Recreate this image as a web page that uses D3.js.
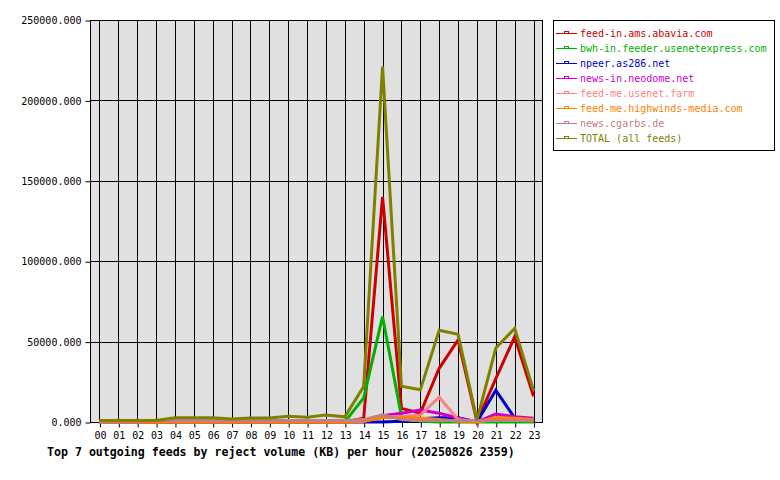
<!DOCTYPE html>
<html>
<head>
<meta charset="utf-8">
<script src="https://cdn.jsdelivr.net/npm/d3@7"></script>
<style>
  body { margin: 0; background: #ffffff; }
  svg { display: block; }
  text { font-family: "DejaVu Sans Mono", monospace; }
</style>
</head>
<body>
<svg id="chart" width="780" height="480"></svg>
<script>
const hours = ["00","01","02","03","04","05","06","07","08","09","10","11","12","13","14","15","16","17","18","19","20","21","22","23"];
const yTicks = [0, 50000, 100000, 150000, 200000, 250000];
const titleText = "Top 7 outgoing feeds by reject volume (KB) per hour (20250826 2359)";

const seriesNames = [
  "feed-in.ams.abavia.com",
  "bwh-in.feeder.usenetexpress.com",
  "npeer.as286.net",
  "news-in.neodome.net",
  "feed-me.usenet.farm",
  "feed-me.highwinds-media.com",
  "news.cgarbs.de",
  "TOTAL (all feeds)"
];
const seriesColors = ["#cc0000", "#00b000", "#0000cc", "#cc00cc", "#ff8080", "#ff8000", "#c08080", "#808000"];

const abavia    = [0,0,0,0,0,0,0,0,0,0,0,0,0,0,2300,140000,8500,5500,33400,51000,300,27000,53000,16000];
const usenetexp = [0,0,0,0,0,0,0,0,0,0,0,0,0,0,15000,65500,3500,500,0,0,0,0,0,0];
const as286     = [0,0,0,0,0,0,0,0,0,0,0,0,0,0,0,0,500,2000,2700,2700,0,19700,2500,1000];
const neodome   = [0,0,0,0,0,0,0,0,0,0,0,0,0,0,500,3900,5400,7500,5400,2500,0,5000,3300,2300];
const usenetfarm= [0,0,0,0,0,0,0,0,0,0,0,0,0,0,500,3000,3500,4300,15400,1500,0,1500,1500,1000];
const highwinds = [0,0,0,0,0,0,0,0,0,0,0,0,0,0,500,2800,2800,2500,1500,500,0,2800,2300,1500];
const cgarbs    = [500,500,500,1000,1000,1000,1000,1000,1000,1000,1000,1000,1000,1000,1500,4500,1500,1000,1000,1000,800,1000,1000,800];
const total     = [1000,1000,1000,1000,2700,2700,2700,1800,2500,2500,3600,3000,4300,3200,22000,221000,22300,20000,57000,54500,1200,46000,58200,19500];

const seriesValues = [abavia, usenetexp, as286, neodome, usenetfarm, highwinds, cgarbs, total];

const svg = d3.select("#chart");
const L = 90, R = 543, T = 20, B = 422;

const x = d3.scalePoint().domain(hours).range([L, R]).padding(0.5);
const y = d3.scaleLinear().domain([0, 250000]).range([B, T]);

// plot background
svg.append("rect").attr("x", L).attr("y", T).attr("width", R - L).attr("height", B - T)
  .attr("fill", "#e0e0e0");

// vertical grid
svg.append("g").selectAll("line").data(hours).join("line")
  .attr("x1", d => Math.round(x(d)) + 0.5).attr("x2", d => Math.round(x(d)) + 0.5)
  .attr("y1", T).attr("y2", B)
  .attr("stroke", "#000").attr("stroke-width", 1);

// horizontal grid
svg.append("g").selectAll("line").data(yTicks.filter(v => v > 0 && v < 250000)).join("line")
  .attr("x1", L).attr("x2", R)
  .attr("y1", d => Math.round(y(d)) + 0.5).attr("y2", d => Math.round(y(d)) + 0.5)
  .attr("stroke", "#000").attr("stroke-width", 1);

// frame
svg.append("rect").attr("x", L + 0.5).attr("y", T + 0.5).attr("width", R - L - 1).attr("height", B - T)
  .attr("fill", "none").attr("stroke", "#000").attr("stroke-width", 1);

// y axis
const yAxis = d3.axisLeft(y).tickValues(yTicks).tickSize(5).tickPadding(4)
  .tickFormat(d => d3.format(".3f")(d));
const gy = svg.append("g").attr("transform", `translate(${L + 0.5},0.5)`).call(yAxis);
gy.select(".domain").remove();
gy.selectAll("text").attr("font-size", 10).attr("font-family", "DejaVu Sans Mono").attr("fill", "#000");
gy.selectAll("line").attr("stroke", "#000");

// x axis
const xAxis = d3.axisBottom(x).tickSize(5).tickPadding(4);
const gx = svg.append("g").attr("transform", `translate(0.5,${B + 0.5})`).call(xAxis);
gx.select(".domain").remove();
gx.selectAll("text").attr("font-size", 10).attr("font-family", "DejaVu Sans Mono").attr("fill", "#000");
gx.selectAll("line").attr("stroke", "#000");

// lines
const line = d3.line().x((d, i) => x(hours[i])).y(d => y(d));
svg.append("g").selectAll("path").data(seriesValues).join("path")
  .attr("d", d => line(d))
  .attr("fill", "none")
  .attr("stroke", (d, i) => seriesColors[i])
  .attr("stroke-width", 3)
  .attr("stroke-linejoin", "miter");

// legend
const lg = svg.append("g");
lg.append("rect").attr("x", 553.5).attr("y", 20.5).attr("width", 221).attr("height", 130)
  .attr("fill", "#fff").attr("stroke", "#000").attr("stroke-width", 1);
const items = lg.selectAll("g.item").data(seriesNames).join("g").attr("class", "item")
  .attr("transform", (d, i) => `translate(0,${33 + i * 15})`);
items.append("line").attr("x1", 556).attr("x2", 577).attr("y1", 0.5).attr("y2", 0.5)
  .attr("stroke", (d, i) => seriesColors[i]).attr("stroke-width", 1);
items.append("rect").attr("x", 564.5).attr("y", -1.5).attr("width", 4).attr("height", 2)
  .attr("fill", "none").attr("stroke", (d, i) => seriesColors[i]).attr("stroke-width", 1);
items.append("text").attr("x", 580).attr("y", 4).attr("font-size", 10)
  .attr("fill", (d, i) => seriesColors[i]).text(d => d);

// title
svg.append("text").attr("x", 47).attr("y", 456).attr("font-size", 11.6).attr("font-weight", "bold")
  .attr("fill", "#000").text(titleText);
</script>
</body>
</html>
